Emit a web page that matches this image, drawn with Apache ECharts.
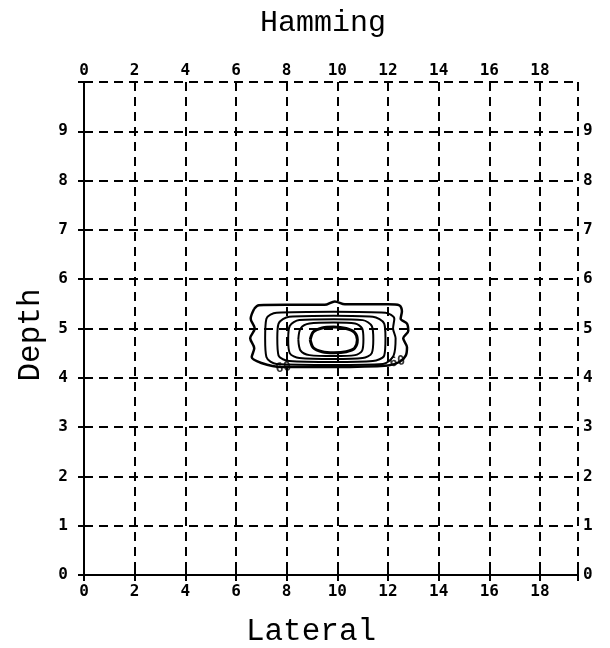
<!DOCTYPE html>
<html>
<head>
<meta charset="utf-8">
<script src="https://cdn.jsdelivr.net/npm/echarts@6/dist/echarts.min.js"></script>
<style>html,body{margin:0;padding:0;background:#fff}#c{width:610px;height:648px}</style>
</head>
<body>
<div id="c"></div>
<script>
// ---- data ----
var title = 'Hamming';
var xName = 'Lateral';
var yName = 'Depth';
var xTicks = [0, 2, 4, 6, 8, 10, 12, 14, 16, 18];
var yTicks = [0, 1, 2, 3, 4, 5, 6, 7, 8, 9];
var xRange = [0, 19.5];
var yRange = [0, 10];

// contour lines, outermost (level 60) to innermost
var contour1 = [[6.72,5.4],[6.9,5.47],[8.0,5.48],[9.5,5.48],[9.9,5.55],[10.3,5.49],[12.0,5.49],[12.45,5.47],[12.55,5.35],[12.5,5.2],[12.75,5.1],[12.8,4.95],[12.6,4.8],[12.75,4.62],[12.7,4.45],[12.45,4.32],[12.0,4.25],[9.86,4.22],[7.8,4.22],[7.0,4.3],[6.62,4.42],[6.72,4.6],[6.56,4.8],[6.74,5.0],[6.58,5.2],[6.72,5.4]];
var contour2 = [[7.15,4.8],[7.2,5.2],[7.6,5.32],[9.86,5.34],[11.9,5.32],[12.25,5.2],[12.2,5.0],[12.3,4.8],[12.22,4.45],[11.8,4.28],[9.86,4.26],[7.6,4.28],[7.2,4.42],[7.15,4.8]];
var contour3 = [[7.63,4.8],[7.68,5.1],[8.1,5.24],[9.86,5.26],[11.4,5.24],[11.85,5.1],[11.9,4.8],[11.85,4.45],[11.4,4.34],[9.86,4.32],[8.1,4.34],[7.68,4.45],[7.63,4.8]];
var contour4 = [[8.06,4.78],[8.12,5.05],[8.5,5.17],[9.86,5.19],[11.0,5.17],[11.36,5.05],[11.42,4.78],[11.36,4.5],[11.0,4.4],[9.86,4.38],[8.5,4.4],[8.12,4.5],[8.06,4.78]];
var contour5 = [[8.46,4.78],[8.55,5.0],[8.9,5.1],[9.86,5.12],[10.7,5.1],[10.98,5.0],[11.03,4.78],[10.98,4.55],[10.7,4.46],[9.86,4.44],[8.9,4.46],[8.55,4.55],[8.46,4.78]];
var contour6 = [[8.93,4.77],[9.05,4.93],[9.4,5.01],[9.86,5.03],[10.35,5.0],[10.68,4.92],[10.79,4.77],[10.68,4.6],[10.35,4.53],[9.86,4.51],[9.4,4.53],[9.05,4.61],[8.93,4.77]];
var contourLabels = [[7.87, 4.2, '60'], [12.37, 4.32, '60']];

// ---- chart ----
var FONT = '"Liberation Mono", "DejaVu Sans Mono", monospace';
var TICKFONT = '"DejaVu Sans Mono", monospace';
var chart = echarts.init(document.getElementById('c'), null, {renderer: 'canvas'});

function fmt(list) { return function (v) { return list.indexOf(v) >= 0 ? String(v) : ''; }; }
var axisLine = {show: true, lineStyle: {color: '#000', width: 2}};
var tickLabel = {color: '#000', fontFamily: TICKFONT, fontSize: 16, fontWeight: 'bold'};

function contourSeries(d, w) {
  return {type: 'line', data: d, smooth: 0.3, showSymbol: false, symbol: 'none', silent: true,
    lineStyle: {color: '#000', width: w}, z: 5};
}

chart.setOption({
  animation: false,
  backgroundColor: '#fff',
  grid: {left: 84, right: 32, top: 82, bottom: 73},
  xAxis: [
    {type: 'value', position: 'bottom', min: xRange[0], max: xRange[1], interval: 2,
     axisLine: axisLine, axisTick: {show: true, inside: true, length: 6, lineStyle: {color: '#000', width: 2}},
     axisLabel: Object.assign({margin: 9, formatter: fmt(xTicks)}, tickLabel),
     splitLine: {show: true, lineStyle: {color: '#000', width: 2, type: [9, 6]}}},
    {type: 'value', position: 'top', min: xRange[0], max: xRange[1], interval: 2,
     axisLine: axisLine, axisTick: {show: true, inside: true, length: 6, lineStyle: {color: '#000', width: 2}},
     axisLabel: Object.assign({margin: 3, formatter: fmt(xTicks)}, tickLabel),
     splitLine: {show: false}}
  ],
  yAxis: [
    {type: 'value', position: 'left', min: yRange[0], max: yRange[1], interval: 1,
     axisLine: axisLine, axisTick: {show: true, inside: true, length: 6, lineStyle: {color: '#000', width: 2}},
     axisLabel: Object.assign({margin: 16, formatter: fmt(yTicks)}, tickLabel),
     splitLine: {show: true, lineStyle: {color: '#000', width: 2, type: [9, 6]}}},
    {type: 'value', position: 'right', min: yRange[0], max: yRange[1], interval: 1,
     axisLine: axisLine, axisTick: {show: true, inside: true, length: 6, lineStyle: {color: '#000', width: 2}},
     axisLabel: Object.assign({margin: 5, formatter: fmt(yTicks)}, tickLabel),
     splitLine: {show: false}}
  ],
  graphic: [
    {type: 'text', x: 323, y: 23, style: {text: title, font: '30px ' + FONT, fill: '#000', textAlign: 'center', textVerticalAlign: 'middle'}},
    {type: 'text', x: 311, y: 632, style: {text: xName, font: '31px ' + FONT, fill: '#000', textAlign: 'center', textVerticalAlign: 'middle'}},
    {type: 'text', x: 31, y: 335, rotation: Math.PI / 2, style: {text: yName, font: '31px ' + FONT, fill: '#000', textAlign: 'center', textVerticalAlign: 'middle'}}
  ],
  series: [
    contourSeries(contour1, 2.5),
    contourSeries(contour2, 2),
    contourSeries(contour3, 2),
    contourSeries(contour4, 2),
    contourSeries(contour5, 2),
    contourSeries(contour6, 3),
    {type: 'scatter', symbolSize: 0, silent: true, z: 6,
     data: contourLabels.map(function (d) { return {value: [d[0], d[1]], name: d[2]}; }),
     label: {show: true, position: 'inside', formatter: '{b}', color: '#000', fontFamily: TICKFONT,
       fontSize: 13, fontWeight: 'bold', rotate: 10}}
  ]
});
</script>
</body>
</html>
